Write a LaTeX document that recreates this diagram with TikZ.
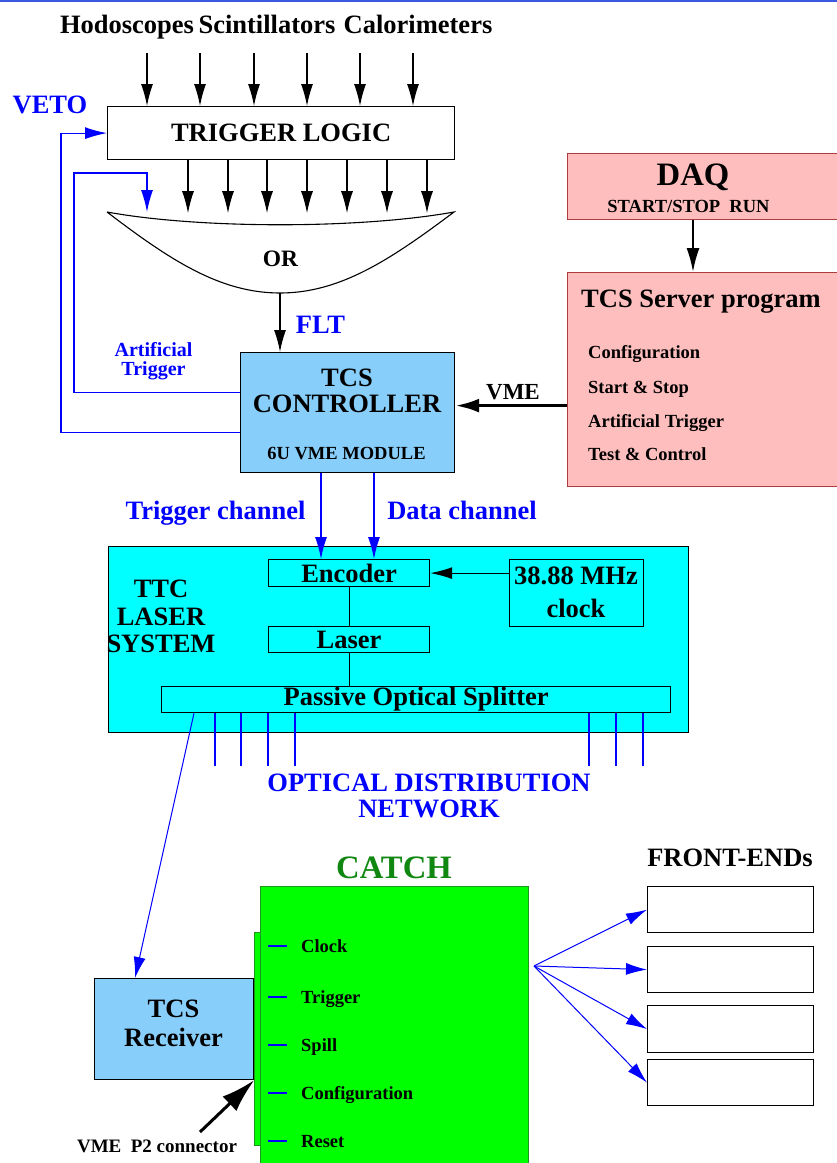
\documentclass[tikz,border=0pt]{standalone}
\usepackage{fontspec}
\setmainfont{Liberation Serif}
\usetikzlibrary{arrows.meta,positioning,calc}
\definecolor{skyblue}{RGB}{135,206,250}
\definecolor{ttccyan}{RGB}{0,255,255}
\definecolor{daqpink}{RGB}{255,190,190}
\definecolor{daqred}{RGB}{175,60,60}
\definecolor{catchgreen}{RGB}{0,255,0}
\definecolor{catchdark}{RGB}{16,135,16}
\definecolor{catchedge}{RGB}{30,150,30}
\definecolor{sigblue}{RGB}{0,0,255}
\definecolor{frameblue}{RGB}{60,90,225}

\newcommand{\txtL}{\fontsize{26.5}{26}\selectfont\bfseries}
\newcommand{\txtS}{\fontsize{18.5}{20}\selectfont\bfseries}
\newcommand{\txtM}{\fontsize{20}{19}\selectfont\bfseries}
\newcommand{\txtH}{\fontsize{32.7}{34}\selectfont\bfseries}

\tikzset{
  box/.style={draw, line width=1.2pt, inner sep=0pt, anchor=north west, font=\txtL},
  lbl/.style={inner sep=0pt, font=\txtL},
  arr/.style={line width=1.2pt, -{Latex[length=22pt,width=12pt]}},
  sig/.style={sigblue, line width=1.2pt},
  sigarr/.style={sig, -{Latex[length=22pt,width=12pt]}},
  fanarr/.style={sigblue, line width=1pt, -{Latex[length=21pt,width=12pt]}},
}

\begin{document}
\begin{tikzpicture}[x=1pt, y=-1pt]
  \useasboundingbox (0,0) rectangle (837,1163);
  \draw[frameblue, line width=1.5pt] (0,0.75) -- (837,0.75);

  % detectors and trigger logic
  \node[lbl, anchor=base] (hodo) at (127,33) {Hodoscopes};
  \node[lbl, anchor=base] (scint) at (267,33) {Scintillators};
  \node[lbl, anchor=base] (calo) at (418,33) {Calorimeters};
  \node[box, minimum width=347pt, minimum height=53pt] (tl) at (107,106) {TRIGGER LOGIC};
  \foreach \d in {40,93,147,200,253,306}
    \draw[arr] ([xshift=\d pt, yshift=53pt]tl.north west) -- ([xshift=\d pt]tl.north west);
  \node[lbl, anchor=base, text=sigblue] (veto) at (50,113) {VETO};

  % OR
  \coordinate (orL) at (107,212);
  \coordinate (orR) at (454,212);
  \coordinate (orB) at (280,293);
  \coordinate (artend) at (147,212);
  \draw[line width=1.1pt] (orL) .. controls (200,229) and (360,229) .. (orR)
    .. controls (390,260) and (340,293) .. (orB)
    .. controls (220,293) and (170,260) .. (orL);
  \node[lbl, anchor=base, font=\fontsize{23.5}{24}\selectfont\bfseries] (or) at (280.5,266) {OR};
  \foreach \d in {81,121,160,200,240,280,320}
    \draw[arr] ([xshift=\d pt]tl.south west) -- ++(0,53);

  % TCS controller
  \node[box, fill=skyblue, minimum width=214pt, minimum height=120pt] (ctrl) at (240,352) {};
  \node[lbl, align=center] (ctrlname) at (347,391) {TCS\\CONTROLLER};
  \node[lbl, anchor=base, font=\txtS] (ctrlmod) at (346.5,459) {6U VME MODULE};
  \draw[arr] (orB) -- (ctrl.north -| orB);
  \node[lbl, anchor=base, text=sigblue] (flt) at (320.5,333) {FLT};
  \node[lbl, align=center, text=sigblue, font=\txtM] (arttxt) at (153.5,361.5) {Artificial\\Trigger};
  \draw[sigarr] ([yshift=-20pt]ctrl.west) -| ([xshift=-46pt]tl.west) -- (tl.west);
  \draw[sigarr] ([yshift=20pt]ctrl.west) -| (74,173) -| (artend);

  % DAQ side
  \node[box, draw=daqred, fill=daqpink, minimum width=280pt, minimum height=66pt] (daq) at (567,153) {};
  \node[lbl, anchor=base, font=\txtH] (daqname) at (693,185) {DAQ};
  \node[lbl, anchor=base, font=\txtS] (daqrun) at (688.5,212) {START/STOP\ \ RUN};
  \node[box, draw=daqred, fill=daqpink, minimum width=280pt, minimum height=214pt] (srv) at (567,272) {};
  \node[lbl, anchor=base west] (srvname) at (581,307) {TCS Server program};
  \node[lbl, anchor=base west, font=\txtS] (srvconf) at (588,358) {Configuration};
  \node[lbl, anchor=base west, font=\txtS] (srvstart) at (588,393) {Start \& Stop};
  \node[lbl, anchor=base west, font=\txtS] (srvart) at (588,427) {Artificial Trigger};
  \node[lbl, anchor=base west, font=\txtS] (srvtest) at (588,460) {Test \& Control};
  \draw[line width=2pt, -{Latex[length=24pt,width=13pt]}] ([xshift=126pt]daq.south west) -- ([xshift=126pt]srv.north west);
  \draw[line width=3.5pt, -{Latex[length=24pt,width=14pt]}] ([yshift=-26pt]srv.west) -- ([yshift=7pt]ctrl.east);
  \node[lbl, anchor=base, font=\fontsize{23}{24}\selectfont\bfseries] (vme) at (513,399) {VME};

  % TTC laser system
  \node[box, fill=ttccyan, minimum width=580pt, minimum height=186pt] (ttc) at (108,546) {};
  \node[lbl, align=center, font=\fontsize{26.5}{27.5}\selectfont\bfseries] (ttcname) at (161,616.5) {TTC\\LASER\\SYSTEM};
  \node[box, minimum width=161pt, minimum height=27pt] (enc) at (268,559) {Encoder};
  \node[box, minimum width=161pt, minimum height=26pt] (laser) at (268,626) {Laser};
  \node[box, minimum width=134pt, minimum height=67pt] (clk) at (509,559) {};
  \node[lbl, align=center, font=\fontsize{26.5}{33}\selectfont\bfseries] (clkname) at (576,592.5) {38.88 MHz\\clock};
  \node[box, minimum width=509pt, minimum height=26pt] (spl) at (161,686) {Passive Optical Splitter};
  \draw[line width=1.1pt] (enc) -- (laser);
  \draw[line width=1.1pt] (laser.south) -- (laser.south |- spl.north);
  \draw[arr] (clk.west |- enc.east) -- (enc.east);
  \draw[sigarr] ([xshift=81pt]ctrl.south west) -- ([xshift=53pt]enc.north west);
  \draw[sigarr] ([xshift=134pt]ctrl.south west) -- ([xshift=106pt]enc.north west);
  \node[lbl, anchor=base, text=sigblue] (trgch) at (215.5,519) {Trigger channel};
  \node[lbl, anchor=base, text=sigblue] (datach) at (462,519) {Data channel};

  % optical distribution
  \foreach \d in {54,80,107,134,428,455,482}
    \draw[sig] ([xshift=\d pt]spl.south west) -- ++(0,53);
  \node[lbl, align=center, text=sigblue] (odn) at (429,796) {OPTICAL DISTRIBUTION\\NETWORK};

  % CATCH and receiver
  \node[lbl, anchor=base, font=\txtH, text=catchdark] (catchname) at (394,878) {CATCH};
  \node[box, draw=catchedge, fill=catchgreen, minimum width=7pt, minimum height=213pt] (strip) at (254,932) {};
  \node[box, draw=catchedge, fill=catchgreen, minimum width=268pt, minimum height=290pt] (catch) at (260,886) {};
  \node[box, fill=skyblue, minimum width=159pt, minimum height=101pt] (rcv) at (94,978) {};
  \node[lbl, align=center, font=\fontsize{26.5}{29}\selectfont\bfseries] (rcvname) at (173.5,1023.5) {TCS\\Receiver};
  \draw[fanarr] ([xshift=33pt]spl.south west) -- ([xshift=41pt]rcv.north west);
  \foreach \name/\txt/\yb in {lclock/Clock/952, ltrig/Trigger/1003, lspill/Spill/1051, lconf/Configuration/1099, lreset/Reset/1147} {
    \node[lbl, anchor=base west, font=\txtS] (\name) at (301,\yb) {\txt};
    \draw[sig] ([xshift=-33pt, yshift=6pt]\name.base west) -- ++(19,0);
  }
  \coordinate (p2tail) at (200,1132);
  \draw[line width=3pt, -{Latex[length=34pt,width=20pt]}] (p2tail) -- (rcv.south east);
  \node[lbl, anchor=base, font=\fontsize{19}{20}\selectfont\bfseries] (p2) at (157,1152) {VME\ \ P2 connector};

  % front-ends
  \node[lbl, anchor=base] (fename) at (730,866) {FRONT-ENDs};
  \node[box, minimum width=166pt, minimum height=46pt] (fe1) at (647,886) {};
  \node[box, minimum width=166pt, minimum height=46pt] (fe2) at (647,946) {};
  \node[box, minimum width=166pt, minimum height=47pt] (fe3) at (647,1005) {};
  \node[box, minimum width=166pt, minimum height=46pt] (fe4) at (647,1059) {};
  \coordinate (fan) at (534,966);
  \foreach \fe in {fe1,fe2,fe3,fe4}
    \draw[fanarr] (fan) -- (\fe.west);
\end{tikzpicture}
\end{document}
